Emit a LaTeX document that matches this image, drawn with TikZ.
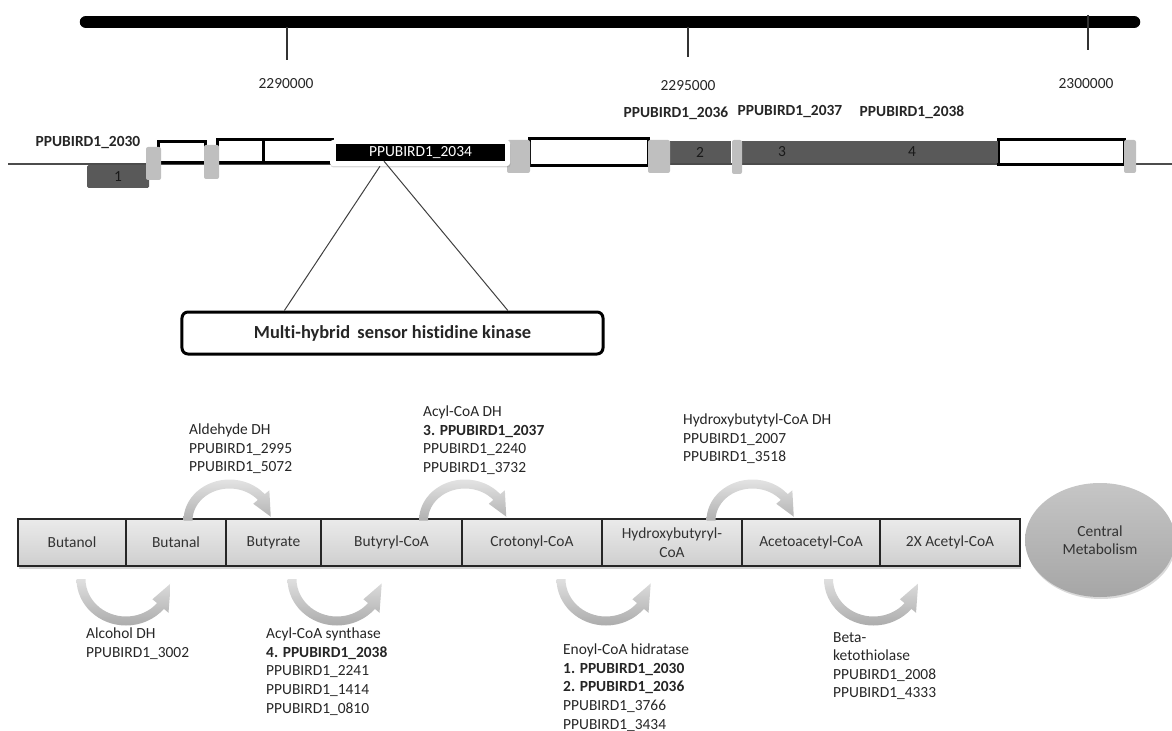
\documentclass[tikz,border=0pt]{standalone}
\usepackage{fontspec}
\setmainfont{Carlito}[Ligatures=NoCommon]
\usetikzlibrary{calc,shadows,shapes.geometric}

% curved block arrow arching above two neighbouring boxes (#1 = centre coordinate)
\newcommand\uparc[1]{%
  \shade[top color=gray!22, bottom color=gray!62]
    ($(#1)+(180:46 and 41)$) arc[start angle=180, end angle=40, x radius=46, y radius=41]
    -- ($(#1)+(40:52 and 47)$) -- ($(#1)+(6:41.5 and 36.5)$) -- ($(#1)+(40:31 and 26)$)
    -- ($(#1)+(40:37 and 32)$) arc[start angle=40, end angle=180, x radius=37, y radius=32] -- cycle;}
% curved block arrow hanging below two neighbouring boxes (#1 = centre coordinate)
\newcommand\downarc[1]{%
  \shade[top color=gray!25, bottom color=gray!65]
    ($(#1)+(180:49.5 and 46.5)$) arc[start angle=180, end angle=320, x radius=49.5, y radius=46.5]
    -- ($(#1)+(320:55.5 and 52.5)$) -- ($(#1)+(354:45 and 42)$) -- ($(#1)+(320:34.5 and 31.5)$)
    -- ($(#1)+(320:40.5 and 37.5)$) arc[start angle=320, end angle=180, x radius=40.5, y radius=37.5] -- cycle;}

\begin{document}
\begin{tikzpicture}[x=1bp, y=1bp,
  txt/.style={inner sep=0pt, text=black!85, font=\fontsize{15.5}{18.6}\selectfont},
  btxt/.style={txt, font=\fontsize{15.5}{18.6}\selectfont\bfseries},
  note/.style={txt, align=left, anchor=north west},
  tick/.style={line width=1.3bp, black!80},
  openbox/.style={fill=white, draw=black, line width=3bp},
  darkgene/.style={fill=black!65},
  spacer/.style={fill=black!25, rounded corners=2bp},
  pbox/.style={draw=black!85, line width=1.3bp, top color=gray!16, bottom color=gray!38,
    minimum height=47bp, inner sep=1bp, align=center, text=black!80,
    font=\fontsize{15.5}{18.6}\selectfont,
    drop shadow={shadow xshift=1bp, shadow yshift=-2.5bp, opacity=0.35}},
]
\useasboundingbox (0,0) rectangle (1172,-731);

% ---------- coordinate ruler ----------
\draw[line width=12.5bp, line cap=round] (86,-22) -- (1134,-22);
\draw[tick] (287,-27) -- (287,-60);
\draw[tick] (688,-27) -- (688,-57);
\draw[tick] (1088,-15) -- (1088,-50);
\node[txt] (p1) at (286,-84) {2290000};
\node[txt] (p2) at (688,-86) {2295000};
\node[txt] (p3) at (1086,-84) {2300000};

% ---------- gene cluster ----------
\draw[line width=1.3bp, black!70] (8,-164) -- (1172,-164);

\draw[openbox] (158,-142) rectangle (205,-163);
\draw[openbox] (217,-140) rectangle (263,-163);
\draw[openbox] (263,-140) rectangle (332,-163);
\draw[openbox] (529,-139) rectangle (648,-166);
\draw[openbox] (998,-140) rectangle (1124,-165);

\fill[darkgene, rounded corners=1.5bp] (87,-165) rectangle (149,-188);
\fill[darkgene] (670,-141) rectangle (731,-163);
\fill[darkgene] (742,-141) rectangle (998,-163);
\node[txt, text=black!90] (n1) at (118,-177) {1};
\node[txt, text=black!90] (n2) at (700,-152) {2};
\node[txt, text=black!90] (n3) at (782,-152) {3};
\node[txt, text=black!90] (n4) at (912,-152) {4};

\fill[spacer] (146,-147) rectangle (161,-180);
\fill[spacer] (204,-145) rectangle (219,-179);
\fill[spacer] (507,-140) rectangle (530,-173);
\fill[spacer] (648,-140) rectangle (670,-173);
\fill[spacer] (732,-140) rectangle (742,-174);
\fill[spacer] (1124,-140) rectangle (1136,-173);

\node[fill=white, rounded corners=3bp, minimum width=180bp, minimum height=26bp, inner sep=0pt,
  drop shadow={shadow xshift=0.5bp, shadow yshift=-1.5bp, opacity=0.3}] (g2034) at (420,-153) {};
\node[fill=black, text=white, minimum width=169bp, minimum height=17bp, inner sep=0pt,
  font=\fontsize{15.5}{18.6}\selectfont] (k2034) at (420.5,-152.5) {PPUBIRD1\_2034};

\node[btxt] (l2030) at (88,-143) {PPUBIRD1\_2030};
\node[btxt] (l2036) at (676,-113) {PPUBIRD1\_2036};
\node[btxt] (l2037) at (790,-112) {PPUBIRD1\_2037};
\node[btxt] (l2038) at (912,-112) {PPUBIRD1\_2038};

% ---------- protein annotation ----------
\node[draw, line width=3bp, rounded corners=6bp, minimum width=421bp, minimum height=42bp,
  inner sep=0pt, font=\fontsize{18.5}{22}\selectfont\bfseries, text=black!85] (kinase) at (392.5,-333)
  {Multi-hybrid\, sensor histidine kinase};
\coordinate (apexL) at ($(k2034.south)+(-40.5,-5)$);
\coordinate (apexR) at ($(k2034.south)+(-36.5,0)$);
\draw[line width=1bp, black!75] ($(kinase.north west)!0.245!(kinase.north east)$) -- (apexL);
\draw[line width=1bp, black!75] ($(kinase.north west)!0.772!(kinase.north east)$) -- (apexR);

% ---------- butanol degradation pathway ----------
\node[pbox, minimum width=108bp] (butanol) at (72,-542.5) {Butanol};
\node[pbox, minimum width=100bp] (butanal) at (176,-542.5) {Butanal};
\node[pbox, minimum width=95bp]  (butyrate) at (273.5,-542.5) {Butyrate};
\node[pbox, minimum width=141bp] (butyryl) at (391.5,-542.5) {Butyryl-CoA};
\node[pbox, minimum width=140bp] (crotonyl) at (532,-542.5) {Crotonyl-CoA};
\node[pbox, minimum width=140bp] (hydroxy) at (672,-542.5) {Hydroxybutyryl-\\CoA};
\node[pbox, minimum width=138bp] (acetoacetyl) at (811,-542.5) {Acetoacetyl-CoA};
\node[pbox, minimum width=140bp] (acetyl) at (950,-542.5) {2X Acetyl-CoA};

\node[ellipse, minimum width=150bp, minimum height=114bp, inner sep=0pt,
  top color=gray!45, bottom color=gray!70, align=center, text=black!80,
  font=\fontsize{15.5}{18.6}\selectfont,
  drop shadow={shadow xshift=1bp, shadow yshift=-2bp, opacity=0.3}] (central) at (1100,-540) {Central\\Metabolism};

% reaction arrows
\coordinate (a1) at ($(butanal.north)!.5!(butyrate.north)+(4.75,-2.15)$);
\coordinate (a2) at ($(butyryl.north)!.5!(crotonyl.north)+(3.25,-2.15)$);
\coordinate (a3) at ($(hydroxy.north)!.5!(acetoacetyl.north)+(11,-2.15)$);
\coordinate (b1) at ($(butanol.south)!.5!(butanal.south)+(2,-12.35)$);
\coordinate (b2) at ($(butyrate.south)!.5!(butyryl.south)+(4.5,-12.35)$);
\coordinate (b3) at ($(crotonyl.south)!.5!(hydroxy.south)+(4,-12.35)$);
\coordinate (b4) at ($(acetoacetyl.south)!.5!(acetyl.south)+(-7,-12.35)$);
\uparc{a1}
\uparc{a2}
\uparc{a3}
\downarc{b1}
\downarc{b2}
\downarc{b3}
\downarc{b4}

% enzymes and candidate genes
\node[note] (aldh) at (189,-424) {Aldehyde DH\\PPUBIRD1\_2995\\PPUBIRD1\_5072};
\node[note] (acdh) at (423,-406) {Acyl-CoA DH\\\textbf{3. PPUBIRD1\_2037}\\PPUBIRD1\_2240\\PPUBIRD1\_3732};
\node[note] (hbdh) at (683,-414) {Hydroxybutytyl-CoA DH\\PPUBIRD1\_2007\\PPUBIRD1\_3518};
\node[note] (adh) at (86,-628) {Alcohol DH\\PPUBIRD1\_3002};
\node[note] (acs) at (266,-628) {Acyl-CoA synthase\\\textbf{4. PPUBIRD1\_2038}\\PPUBIRD1\_2241\\PPUBIRD1\_1414\\PPUBIRD1\_0810};
\node[note] (ech) at (563,-644) {Enoyl-CoA hidratase\\\textbf{1. PPUBIRD1\_2030}\\\textbf{2. PPUBIRD1\_2036}\\PPUBIRD1\_3766\\PPUBIRD1\_3434};
\node[note] (bkt) at (833,-632) {Beta-\\ketothiolase\\PPUBIRD1\_2008\\PPUBIRD1\_4333};
\end{tikzpicture}
\end{document}
